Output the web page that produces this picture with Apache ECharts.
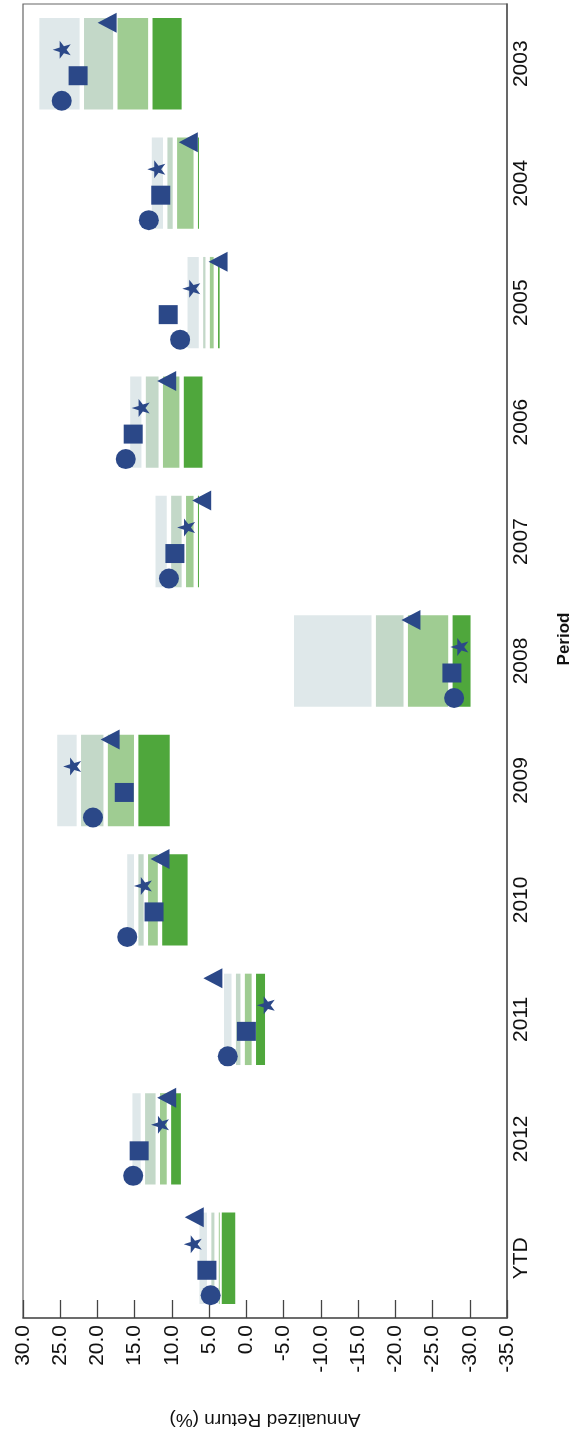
<!DOCTYPE html>
<html>
<head>
<meta charset="utf-8">
<script src="https://cdn.jsdelivr.net/npm/echarts@6/dist/echarts.min.js"></script>
<style>
html,body{margin:0;padding:0;background:#fff;}
#chart{width:574px;height:1433px;}
</style>
</head>
<body>
<div id="chart"></div>
<script>
// Categories (bottom to top on the category axis)
const categories = ['YTD','2012','2011','2010','2009','2008','2007','2006','2005','2004','2003'];
// Band boundaries (highest to lowest)
const p5  = [6.6, 15.6,  3.3, 16.3, 25.7,  -6.1, 12.5, 15.9, 8.2, 13.0, 28.1];
const p25 = [5.0, 13.9,  1.7, 14.8, 22.5, -17.1, 10.4, 13.8, 6.1, 10.9, 22.1];
const p50 = [4.0, 11.9,  0.5, 13.5, 18.9, -21.4,  8.4, 11.5, 5.2,  9.6, 17.6];
const p75 = [3.6, 10.4, -1.0, 11.6, 14.8, -27.4,  6.8,  8.7, 4.1,  6.8, 12.9];
const p95 = [1.2,  8.5, -2.8,  7.6, 10.0, -30.4,  6.1,  5.6, 3.3,  6.1,  8.4];
// Markers
const circleVals   = [4.8, 15.2,  2.5, 16.0, 20.6, -27.9, 10.4, 16.2,  8.9, 13.1, 24.8];
const squareVals   = [5.3, 14.4,  0.0, 12.4, 16.4, -27.6,  9.6, 15.2, 10.5, 11.5, 22.6];
const starVals     = [7.2, 11.6, -2.6, 13.9, 23.4, -28.6,  8.1, 14.2,  7.4, 12.1, 24.8];
const triangleVals = [7.0, 10.7,  4.5, 11.6, 18.3, -22.1,  6.0, 10.7,  3.8,  7.8, 18.7];
// Value axis ticks
const axisMin = -35, axisMax = 30, axisStep = 5;

const FONT = 'Liberation Sans, Arial, sans-serif';
const navy = '#2b4888';
const starPath = 'path://M50,0 L61.8,35.1 L98.1,35.1 L68.8,56.7 L79.4,90.9 L50,70 L20.6,90.9 L31.2,56.7 L1.9,35.1 L38.2,35.1 Z';

function band(name, color, highs, lows) {
  return {
    name: name,
    type: 'custom',
    encode: {x: [1, 2], y: 0},
    data: categories.map((c, i) => [i, highs[i], lows[i]]),
    z: 2,
    renderItem: function (params, api) {
      const cat = api.value(0);
      const a = api.coord([api.value(1), cat]);
      const b = api.coord([api.value(2), cat]);
      const h = api.size([0, 1])[1] * 0.765;
      const x0 = Math.min(a[0], b[0]) + 2.2;
      const x1 = Math.max(a[0], b[0]) - 2.2;
      return {
        type: 'rect',
        shape: {x: x0, y: a[1] - h / 2, width: Math.max(x1 - x0, 1), height: h},
        style: {fill: color}
      };
    }
  };
}

function marker(name, vals, symbol, size, offset, rotate) {
  return {
    name: name,
    type: 'scatter',
    data: vals.map((v, i) => [v, i]),
    symbol: symbol,
    symbolSize: size,
    symbolOffset: [0, offset],
    symbolRotate: rotate || 0,
    itemStyle: {color: navy, opacity: 1},
    z: 5
  };
}

const chart = echarts.init(document.getElementById('chart'));
chart.setOption({
  animation: false,
  backgroundColor: '#fff',
  grid: {left: 23, right: 67, top: 4, bottom: 115, show: true, borderColor: '#666', borderWidth: 1.2,
    containLabel: false, outerBoundsMode: 'none'},
  xAxis: {
    type: 'value',
    inverse: true,
    min: axisMin, max: axisMax, interval: axisStep,
    position: 'bottom',
    name: 'Annualized Return (%)',
    nameLocation: 'middle',
    nameRotate: 180,
    nameGap: 92,
    nameMoveOverlap: false,
    nameTextStyle: {fontFamily: FONT, fontSize: 19, color: '#111'},
    axisLine: {show: true, lineStyle: {color: '#555', width: 1.5}},
    axisTick: {show: true, inside: true, length: 18, lineStyle: {color: '#444', width: 1.3}},
    axisLabel: {rotate: 90, margin: 7, fontFamily: FONT, fontSize: 21, color: '#111',
      formatter: v => v.toFixed(1)},
    splitLine: {show: false}
  },
  yAxis: {
    type: 'category',
    data: categories,
    position: 'right',
    name: 'Period',
    nameLocation: 'middle',
    nameRotate: 90,
    nameGap: 49,
    nameMoveOverlap: false,
    nameTextStyle: {fontFamily: FONT, fontSize: 17, fontWeight: 'bold', color: '#111', padding: [0, 0, 0, 44]},
    axisLine: {show: true, onZero: false, lineStyle: {color: '#555', width: 1.5}},
    axisTick: {show: false},
    axisLabel: {rotate: 90, margin: 4, fontFamily: FONT, fontSize: 21, color: '#111'},
    splitLine: {show: false}
  },
  series: [
    band('5th-25th', '#dfe8ea', p5, p25),
    band('25th-Median', '#c3d8c8', p25, p50),
    band('Median-75th', '#9fcc92', p50, p75),
    band('75th-95th', '#4fa73c', p75, p95),
    marker('Circle', circleVals, 'circle', 20, 37, 0),
    marker('Square', squareVals, 'rect', 19, 12, 0),
    marker('Star', starVals, starPath, 18, -14, 90),
    marker('Triangle', triangleVals, 'triangle', [20, 19], -41, 90)
  ]
});
</script>
</body>
</html>
